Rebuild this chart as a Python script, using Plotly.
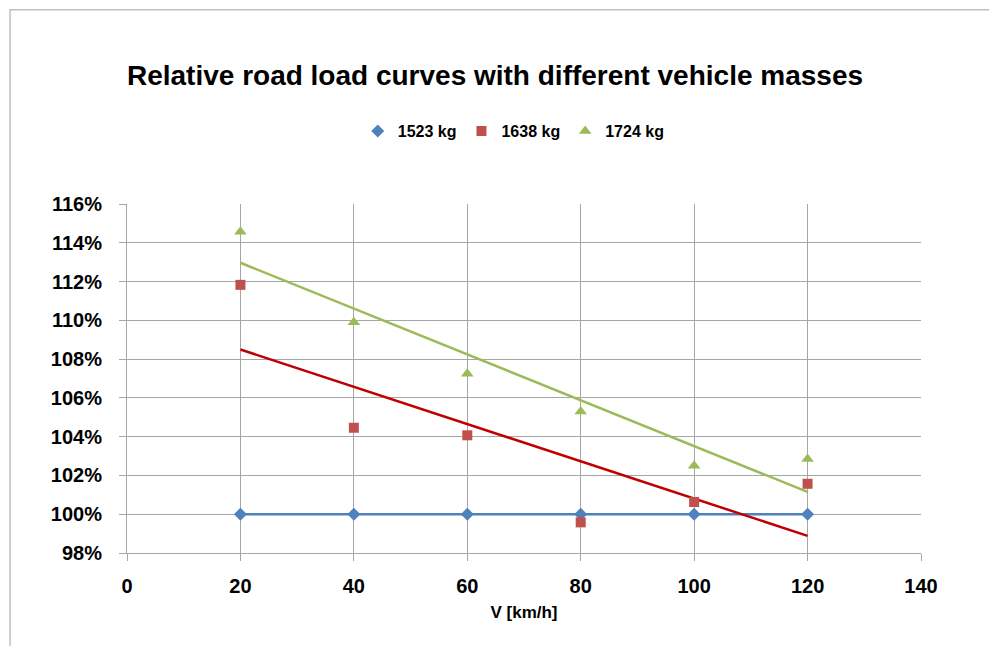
import numpy as np
import plotly.graph_objects as go

speeds = [20, 40, 60, 80, 100, 120]
series_names = ["1523 kg", "1638 kg", "1724 kg"]
load_1523 = [100.0, 100.0, 100.0, 100.0, 100.0, 100.0]
load_1638 = [111.83, 104.46, 104.07, 99.58, 100.63, 101.57]
load_1724 = [114.57, 109.9, 107.24, 105.3, 102.5, 102.85]
x_ticks = [0, 20, 40, 60, 80, 100, 120, 140]
y_ticks = [98, 100, 102, 104, 106, 108, 110, 112, 114, 116]

marker_colors = ["#4F81BD", "#C0504D", "#9BBB59"]
trend_colors = ["#4F81BD", "#C00000", "#9BBB59"]
symbols = ["diamond", "square", "triangle-up"]
sizes = [10, 10, 11]
FONT = "Liberation Sans"

fig = go.Figure()
all_series = [load_1523, load_1638, load_1724]

# trend lines (linear fits of each series)
x_arr = np.array(speeds, dtype=float)
for vals, tc in zip(all_series, trend_colors):
    k, b = np.polyfit(x_arr, np.array(vals), 1)
    xs = [speeds[0], speeds[-1]]
    ys = [k * xs[0] + b, k * xs[1] + b]
    fig.add_trace(go.Scatter(x=xs, y=ys, mode="lines",
                             line=dict(color=tc, width=2.5),
                             showlegend=False, hoverinfo="skip"))

for name, vals, mc, sym, sz in zip(series_names, all_series, marker_colors, symbols, sizes):
    fig.add_trace(go.Scatter(x=speeds, y=vals, mode="markers", name=name,
                             marker=dict(color=mc, symbol=sym, size=sz,
                                         line=dict(width=0))))

# page body has an 8px margin; lay out in page pixel coordinates
OFF = 8
W, H = 997 - OFF, 646 - OFF
L, R, T, B = 127, 921.5, 204, 553.3   # plot area in page pixels
pw, ph = R - L, B - T

def px_x(px):
    return (px - L) / pw

def px_y(py):
    return (B - py) / ph

fig.add_shape(type="rect", xref="paper", yref="paper",
              x0=px_x(10), x1=px_x(1010), y0=px_y(660), y1=px_y(9.5),
              line=dict(color="#BFBFBF", width=1.5), fillcolor="rgba(0,0,0,0)",
              layer="below")

fig.update_layout(
    width=W, height=H,
    margin=dict(l=L - OFF, r=W - (R - OFF), t=T - OFF, b=H - (B - OFF), pad=0,
                autoexpand=False),
    paper_bgcolor="white", plot_bgcolor="white",
    font=dict(family=FONT, color="#000000"),
    title=dict(text="<b>Relative road load curves with different vehicle masses</b>",
               x=(495 - OFF) / W, xanchor="center", y=1 - (75 - OFF) / H, yanchor="middle",
               font=dict(size=28, family=FONT, color="#000000")),
    legend=dict(orientation="h", x=px_x(514), xanchor="center",
                y=px_y(131), yanchor="middle",
                font=dict(size=16, family=FONT, color="#000000", weight="bold"),
                itemwidth=30, tracegroupgap=0, bgcolor="rgba(0,0,0,0)"),
    showlegend=True,
    xaxis=dict(range=[0, 140], tickvals=x_ticks, ticktext=[str(v) for v in x_ticks],
               showgrid=True, gridcolor="#A6A6A6", gridwidth=1,
               showline=True, linecolor="#A6A6A6", linewidth=1,
               ticks="outside", ticklen=7, tickcolor="#A6A6A6",
               tickfont=dict(size=20, family=FONT, color="#000000", weight="bold"),
               zeroline=False, mirror=False, automargin=False, ticklabelstandoff=8,
               title=dict(text="<b>V [km/h]</b>", font=dict(size=17, family=FONT, color="#000000"),
                          standoff=10)),
    yaxis=dict(range=[98, 116], tickvals=y_ticks, ticktext=[f"{v}%" for v in y_ticks],
               showgrid=True, gridcolor="#A6A6A6", gridwidth=1,
               showline=True, linecolor="#A6A6A6", linewidth=1,
               ticks="outside", ticklen=7, tickcolor="#A6A6A6",
               tickfont=dict(size=20, family=FONT, color="#000000", weight="bold"),
               zeroline=False, ticklabelstandoff=13, automargin=False),
)

fig.write_html("out.html")
